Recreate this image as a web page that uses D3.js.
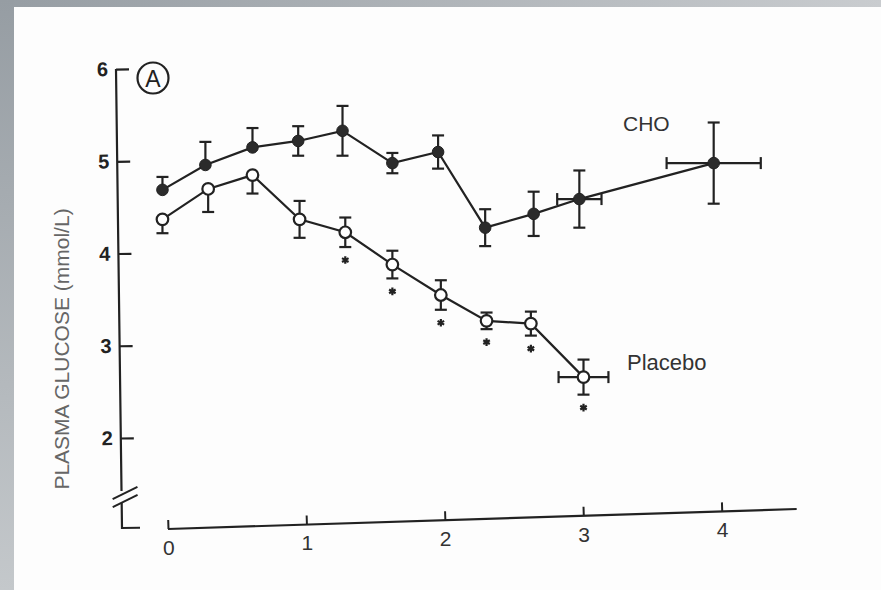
<!DOCTYPE html>
<html><head><meta charset="utf-8">
<script src="https://cdn.jsdelivr.net/npm/d3@7"></script>
<style>
html,body{margin:0;padding:0;background:#fff;}
svg{display:block;font-family:"Liberation Sans",Arial,sans-serif;}
.xt text{font-size:21px !important;}
.yt text{font-size:20px !important;font-weight:bold;}
</style>
</head><body><div id="chart"></div>
<script>
// ---- data ----
const xTicks = [0, 1, 2, 3, 4];
const yTicks = [2, 3, 4, 5, 6];
const yLabel = "PLASMA GLUCOSE (mmol/L)";
const panelLabel = "A";
const seriesNames = ["CHO", "Placebo"];

const choTime    = [-0.04, 0.27, 0.61, 0.94, 1.26, 1.62, 1.95, 2.29, 2.64, 2.97, 3.94];
const choGlucose = [4.69, 4.96, 5.15, 5.22, 5.33, 4.98, 5.10, 4.28, 4.43, 4.59, 4.98];
const choSem     = [0.14, 0.25, 0.21, 0.16, 0.27, 0.11, 0.18, 0.20, 0.24, 0.31, 0.44];
const choBarDir  = ["up","up","up","both","both","both","both","both","both","both","both"];
const choTimeErr = [0, 0, 0, 0, 0, 0, 0, 0, 0, 0.16, 0.34];

const placeboTime    = [-0.04, 0.29, 0.61, 0.95, 1.28, 1.62, 1.97, 2.30, 2.62, 3.00];
const placeboGlucose = [4.37, 4.70, 4.85, 4.37, 4.23, 3.88, 3.55, 3.27, 3.24, 2.66];
const placeboSem     = [0.15, 0.25, 0.20, 0.20, 0.16, 0.15, 0.16, 0.09, 0.13, 0.19];
const placeboBarDir  = ["down","down","down","both","both","both","both","both","both","both"];
const placeboTimeErr = [0, 0, 0, 0, 0, 0, 0, 0, 0, 0.18];
const placeboSignificant = [false,false,false,false,true,true,true,true,true,true];

// ---- layout ----
const W = 881, H = 590;
const ink = "#222";
const svg = d3.select("#chart").append("svg").attr("width", W).attr("height", H);

const defs = svg.append("defs");
const gl = defs.append("linearGradient").attr("id","gLeft").attr("x1",0).attr("y1",0).attr("x2",0).attr("y2",1);
gl.append("stop").attr("offset",0).attr("stop-color","#969da3");
gl.append("stop").attr("offset",1).attr("stop-color","#c4c8cb");
const gt = defs.append("linearGradient").attr("id","gTop").attr("x1",0).attr("y1",0).attr("x2",1).attr("y2",0);
gt.append("stop").attr("offset",0).attr("stop-color","#969da3");
gt.append("stop").attr("offset",1).attr("stop-color","#c9cccf");

svg.append("rect").attr("width",W).attr("height",H).attr("fill","#fdfdfd");
svg.append("rect").attr("x",0).attr("y",0).attr("width",W).attr("height",7).attr("fill","url(#gTop)");
svg.append("rect").attr("x",0).attr("y",0).attr("width",14).attr("height",H).attr("fill","url(#gLeft)");

const x = d3.scaleLinear().domain([0, 4]).range([168, 722]);
const y = d3.scaleLinear().domain([2, 6]).range([438, 69]);

// ---- x axis (slightly tilted, as in the scan) ----
const xAngle = -1.82, xAxisY = 529;
const gx = svg.append("g").attr("class","xt")
  .attr("transform", `rotate(${xAngle},168,${xAxisY}) translate(0,${xAxisY})`)
  .call(d3.axisBottom(x).tickValues(xTicks).tickFormat(d3.format("d"))
        .tickSizeInner(-9).tickSizeOuter(0).tickPadding(11));
gx.attr("font-size", 21).attr("font-family", "Liberation Sans, Arial, sans-serif");
gx.select(".domain").remove();
gx.append("line").attr("x1", x(0)).attr("x2", 797).attr("y1", 0).attr("y2", 0)
  .attr("stroke", ink).attr("stroke-width", 2.2);
gx.selectAll(".tick line").attr("stroke", ink).attr("stroke-width", 2);
gx.selectAll(".tick text").attr("fill", "#333").attr("font-size", 21)
  .attr("transform", `rotate(${-xAngle},0,11)`);

// ---- y axis (slightly tilted) ----
const yAxisX = 122, yAxisBottom = 528;
const gy = svg.append("g").attr("class","yt")
  .attr("transform", `rotate(-0.75,${yAxisX},${yAxisBottom}) translate(${yAxisX},0)`)
  .call(d3.axisLeft(y).tickValues(yTicks).tickFormat(d3.format("d"))
        .tickSizeInner(-13).tickSizeOuter(0).tickPadding(8));
gy.attr("font-size", 20).attr("font-family", "Liberation Sans, Arial, sans-serif");
gy.select(".domain").remove();
gy.selectAll(".tick line").attr("stroke", ink).attr("stroke-width", 2.2);
gy.selectAll(".tick text").attr("fill", ink).attr("font-size", 20).attr("font-weight", "bold");
gy.append("path")
  .attr("d", `M0,${y(6)}V491M0,503V${yAxisBottom}H18`)
  .attr("fill","none").attr("stroke", ink).attr("stroke-width", 2.2);
// axis break marks
[0, 8].forEach(o => {
  gy.append("line").attr("x1", -9).attr("y1", 499 + o).attr("x2", 16).attr("y2", 487 + o)
    .attr("stroke", ink).attr("stroke-width", 2);
});

// y label
svg.append("text")
  .attr("transform", `translate(69,349) rotate(-90)`)
  .attr("text-anchor", "middle")
  .attr("font-size", 21).attr("fill", "#666")
  .text(yLabel);

// panel label
svg.append("circle").attr("cx", 153).attr("cy", 78).attr("r", 15.5)
  .attr("fill","none").attr("stroke", ink).attr("stroke-width", 2.2);
svg.append("text").attr("x", 153).attr("y", 79).attr("dy","0.36em")
  .attr("text-anchor","middle").attr("font-size", 23).attr("fill", ink).text(panelLabel);

// ---- series ----
function build(t, g, sem, dir, terr) {
  return t.map((d, i) => ({ t: d, g: g[i], sem: sem[i], dir: dir[i], terr: terr[i] }));
}
const cho = build(choTime, choGlucose, choSem, choBarDir, choTimeErr);
const plc = build(placeboTime, placeboGlucose, placeboSem, placeboBarDir, placeboTimeErr);

const line = d3.line().x(d => x(d.t)).y(d => y(d.g));
const plot = svg.append("g");

[cho, plc].forEach(s => {
  plot.append("path").datum(s).attr("d", line)
    .attr("fill","none").attr("stroke", ink).attr("stroke-width", 2.2);
});

const cap = 6;
function errorBars(s) {
  const g = plot.append("g").attr("stroke", ink).attr("stroke-width", 2.2).attr("fill","none");
  s.forEach(d => {
    const cx = x(d.t), cy = y(d.g);
    const top = (d.dir === "up" || d.dir === "both") ? y(d.g + d.sem) : cy;
    const bot = (d.dir === "down" || d.dir === "both") ? y(d.g - d.sem) : cy;
    g.append("line").attr("x1", cx).attr("x2", cx).attr("y1", top).attr("y2", bot);
    if (top !== cy) g.append("line").attr("x1", cx - cap).attr("x2", cx + cap).attr("y1", top).attr("y2", top);
    if (bot !== cy) g.append("line").attr("x1", cx - cap).attr("x2", cx + cap).attr("y1", bot).attr("y2", bot);
    if (d.terr > 0) {
      const l = x(d.t - d.terr), r = x(d.t + d.terr);
      g.append("line").attr("x1", l).attr("x2", r).attr("y1", cy).attr("y2", cy);
      g.append("line").attr("x1", l).attr("x2", l).attr("y1", cy - cap).attr("y2", cy + cap);
      g.append("line").attr("x1", r).attr("x2", r).attr("y1", cy - cap).attr("y2", cy + cap);
    }
  });
}
errorBars(cho);
errorBars(plc);

plot.selectAll("circle.cho").data(cho).join("circle").attr("class","cho")
  .attr("cx", d => x(d.t)).attr("cy", d => y(d.g)).attr("r", 5.8)
  .attr("fill", "#2b2b2b").attr("stroke", ink).attr("stroke-width", 1);
plot.selectAll("circle.plc").data(plc).join("circle").attr("class","plc")
  .attr("cx", d => x(d.t)).attr("cy", d => y(d.g)).attr("r", 5.8)
  .attr("fill", "#fff").attr("stroke", ink).attr("stroke-width", 2.2);

// significance asterisks
const star = d3.symbol().type(d3.symbolAsterisk).size(40);
plc.forEach((d, i) => {
  if (!placeboSignificant[i]) return;
  plot.append("path").attr("d", star)
    .attr("transform", `translate(${x(d.t)},${y(d.g - d.sem) + 13})`)
    .attr("fill","none").attr("stroke", ink).attr("stroke-width", 2.2);
});

// series labels
svg.append("text").attr("x", 623).attr("y", 123).attr("dy","0.36em")
  .attr("font-size", 21).attr("fill", "#333").text(seriesNames[0]);
svg.append("text").attr("x", 627).attr("y", 362).attr("dy","0.36em")
  .attr("font-size", 22).attr("fill", "#333").text(seriesNames[1]);
</script>
</body></html>
